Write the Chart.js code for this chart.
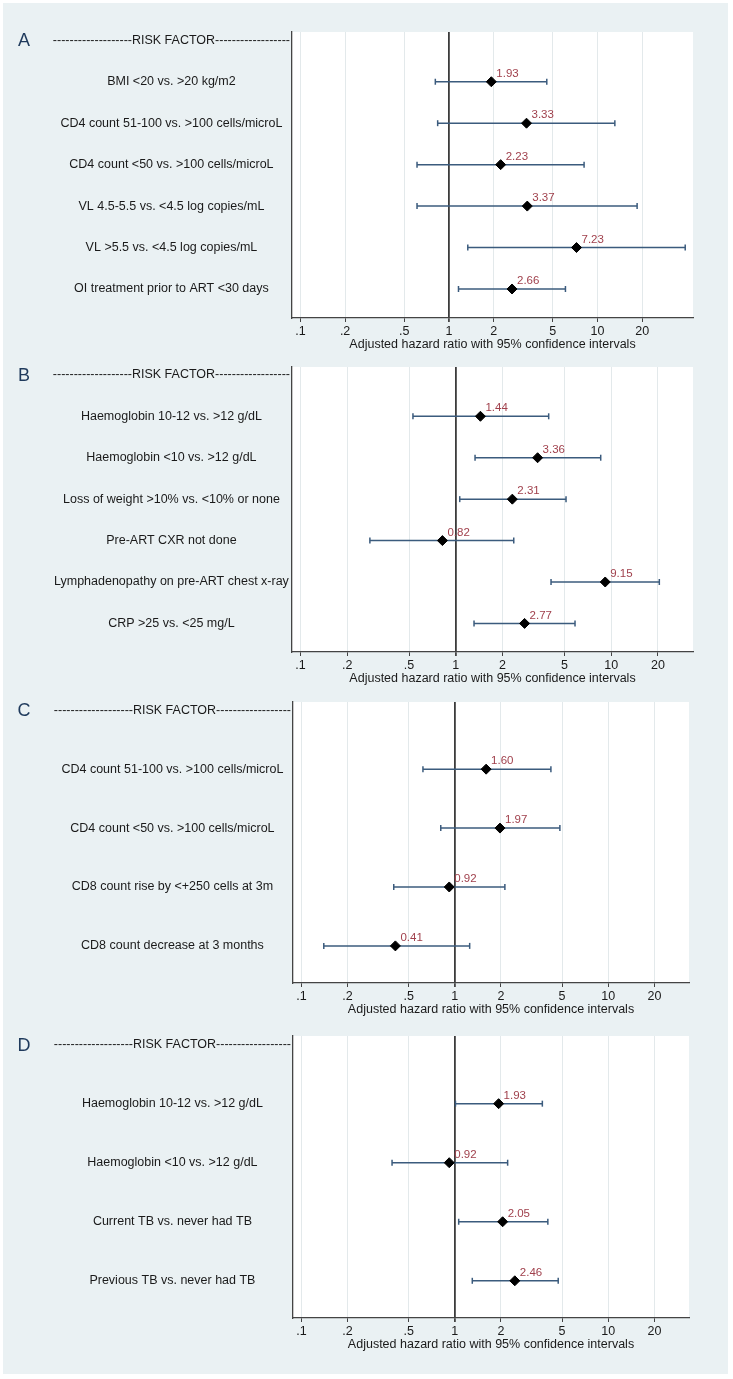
<!DOCTYPE html>
<html>
<head>
<meta charset="utf-8">
<script src="https://cdn.jsdelivr.net/npm/chart.js@4/dist/chart.umd.min.js"></script>
<style>
  body { margin: 0; background: #fff; width: 733px; height: 1379px; position: relative; overflow: hidden; }
  #bg { position: absolute; left: 3px; top: 3px; width: 725px; height: 1371px; background: #eaf1f3; }
  canvas { position: absolute; left: 0; }
</style>
</head>
<body>
<div id="bg"></div>
<canvas id="chartA" width="733" height="355" style="top:0px"></canvas>
<canvas id="chartB" width="733" height="335" style="top:355px"></canvas>
<canvas id="chartC" width="733" height="332" style="top:690px"></canvas>
<canvas id="chartD" width="733" height="357" style="top:1022px"></canvas>
<script>
// shared axis text
const header = '-------------------RISK FACTOR------------------';
const xTitle = 'Adjusted hazard ratio with 95% confidence intervals';
const tickVals = [0.1, 0.2, 0.5, 1, 2, 5, 10, 20];
const tickText = ['.1', '.2', '.5', '1', '2', '5', '10', '20'];

// panel A
const labelsA = ['BMI <20 vs. >20 kg/m2', 'CD4 count 51-100 vs. >100 cells/microL', 'CD4 count <50 vs. >100 cells/microL',
  'VL 4.5-5.5 vs. <4.5 log copies/mL', 'VL >5.5 vs. <4.5 log copies/mL', 'OI treatment prior to ART <30 days'];
const hrA   = [1.93, 3.33, 2.23, 3.37, 7.23, 2.66];
const lowA  = [0.81, 0.84, 0.61, 0.61, 1.34, 1.16];
const highA = [4.56, 13.1, 8.13, 18.5, 39.0, 6.09];

// panel B
const labelsB = ['Haemoglobin 10-12 vs. >12 g/dL', 'Haemoglobin <10 vs. >12 g/dL', 'Loss of weight >10% vs. <10% or none',
  'Pre-ART CXR not done', 'Lymphadenopathy on pre-ART chest x-ray', 'CRP >25 vs. <25 mg/L'];
const hrB   = [1.44, 3.36, 2.31, 0.82, 9.15, 2.77];
const lowB  = [0.53, 1.33, 1.06, 0.28, 4.10, 1.31];
const highB = [3.96, 8.56, 5.12, 2.36, 20.4, 5.85];

// panel C
const labelsC = ['CD4 count 51-100 vs. >100 cells/microL', 'CD4 count <50 vs. >100 cells/microL',
  'CD8 count rise by <+250 cells at 3m', 'CD8 count decrease at 3 months'];
const hrC   = [1.60, 1.97, 0.92, 0.41];
const lowC  = [0.62, 0.81, 0.40, 0.14];
const highC = [4.23, 4.84, 2.12, 1.25];

// panel D
const labelsD = ['Haemoglobin 10-12 vs. >12 g/dL', 'Haemoglobin <10 vs. >12 g/dL',
  'Current TB vs. never had TB', 'Previous TB vs. never had TB'];
const hrD   = [1.93, 0.92, 2.05, 2.46];
const lowD  = [1.01, 0.39, 1.06, 1.30];
const highD = [3.72, 2.21, 4.04, 4.72];

Chart.defaults.font.family = "'Liberation Sans', Arial, sans-serif";
Chart.defaults.color = '#1a1a1a';

const ciColor = '#3b5b7d';
const valueColor = '#a0404c';

// white plot region + panel letter + value labels
const forestPlugin = {
  id: 'forest',
  beforeDraw(chart) {
    const a = chart.chartArea;
    const ctx = chart.ctx;
    ctx.save();
    ctx.fillStyle = '#ffffff';
    ctx.fillRect(a.left, a.top, a.right - a.left, a.bottom - a.top);
    ctx.restore();
  },
  afterDatasetsDraw(chart) {
    const ctx = chart.ctx;
    const meta = chart.getDatasetMeta(0);
    const vals = chart.data.datasets[0].data;
    ctx.save();
    ctx.font = "11.5px 'Liberation Sans', Arial, sans-serif";
    ctx.fillStyle = valueColor;
    ctx.textAlign = 'left';
    ctx.textBaseline = 'middle';
    meta.data.forEach((pt, i) => {
      ctx.fillText(vals[i].x.toFixed(2), pt.x + 5, pt.y - 8);
    });
    ctx.font = "18px 'Liberation Sans', Arial, sans-serif";
    ctx.fillStyle = '#1f3a5c';
    ctx.textAlign = 'center';
    ctx.fillText(chart.options.plugins.forest.letter, 24, chart.scales.y.getPixelForValue(0) + 1);
    ctx.restore();
  }
};

function drawPanel(canvasId, letter, labels, hr, low, high, lay) {
  const datasets = [{
    data: hr.map((v, i) => ({ x: v, y: i + 1 })),
    pointStyle: 'rectRot',
    pointRadius: 5,
    backgroundColor: '#000',
    borderColor: '#000',
    showLine: false,
    order: 0
  }];
  low.forEach((lo, i) => {
    datasets.push({
      data: [{ x: lo, y: i + 1 }, { x: high[i], y: i + 1 }],
      showLine: true,
      borderColor: ciColor,
      borderWidth: 1.5,
      pointStyle: 'line',
      pointRotation: 90,
      pointRadius: 3,
      pointBorderColor: ciColor,
      pointBorderWidth: 1.5,
      order: 1
    });
  });

  new Chart(document.getElementById(canvasId), {
    type: 'scatter',
    data: { datasets },
    plugins: [forestPlugin],
    options: {
      responsive: false,
      animation: false,
      devicePixelRatio: 1,
      layout: { padding: lay.pad },
      plugins: {
        legend: { display: false },
        tooltip: { enabled: false },
        forest: { letter }
      },
      scales: {
        x: {
          type: 'logarithmic',
          position: 'bottom',
          min: lay.xMin,
          max: lay.xMax,
          afterBuildTicks: s => { s.ticks = tickVals.map(v => ({ value: v })); },
          afterFit: s => { s.height = 34; },
          ticks: {
            autoSkip: false,
            maxRotation: 0,
            padding: 2,
            color: '#1a1a1a',
            font: { size: 12.5 },
            callback: (v, i) => tickText[i]
          },
          grid: {
            color: c => (c.tick && c.tick.value === 1) ? '#3c3c3c' : '#e3e9eb',
            lineWidth: c => (c.tick && c.tick.value === 1) ? 1.8 : 1,
            tickColor: '#444',
            tickLength: 4
          },
          border: { color: '#444', width: 1.3 },
          title: {
            display: true,
            text: xTitle,
            color: '#1a1a1a',
            font: { size: 12.5 },
            padding: { top: 0, bottom: 0 }
          }
        },
        y: {
          type: 'linear',
          reverse: true,
          min: lay.yMin,
          max: lay.yMax,
          afterBuildTicks: s => { s.ticks = [0].concat(labels.map((l, i) => i + 1)).map(v => ({ value: v })); },
          afterFit: s => { s.width = lay.axisW; },
          ticks: {
            crossAlign: 'center',
            padding: 2,
            color: '#1a1a1a',
            font: { size: 12.5 },
            callback: v => v === 0 ? header : labels[v - 1]
          },
          grid: { display: false, drawTicks: false },
          border: { color: '#444', width: 1.3 }
        }
      }
    }
  });
}

drawPanel('chartA', 'A', labelsA, hrA, lowA, highA,
  { pad: { left: 0, right: 40, top: 32, bottom: 3 }, axisW: 292, xMin: 0.0878, xMax: 44, yMin: -0.2, yMax: 6.7 });
drawPanel('chartB', 'B', labelsB, hrB, lowB, highB,
  { pad: { left: 0, right: 40, top: 12, bottom: 4 }, axisW: 292, xMin: 0.0883, xMax: 33.6, yMin: -0.19, yMax: 6.69 });
drawPanel('chartC', 'C', labelsC, hrC, lowC, highC,
  { pad: { left: 0, right: 44, top: 12, bottom: 5 }, axisW: 293, xMin: 0.0882, xMax: 33.6, yMin: -0.14, yMax: 4.63 });
drawPanel('chartD', 'D', labelsD, hrD, lowD, highD,
  { pad: { left: 0, right: 44, top: 14, bottom: 27 }, axisW: 293, xMin: 0.0882, xMax: 33.6, yMin: -0.146, yMax: 4.63 });
</script>
</body>
</html>
